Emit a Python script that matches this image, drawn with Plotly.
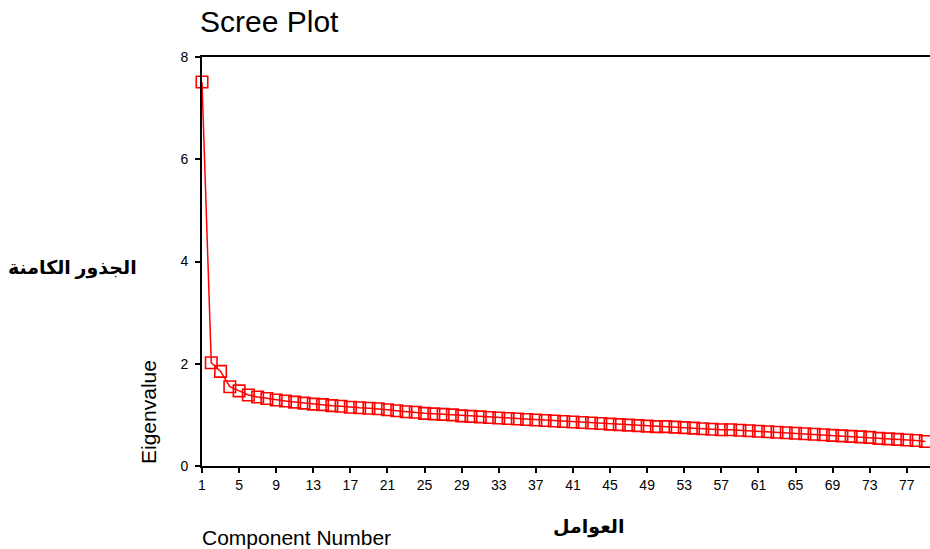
import plotly.graph_objects as go

components = list(range(1, 80))
eigenvalues = [
    7.51, 2.02, 1.85, 1.55, 1.47, 1.39, 1.35, 1.32, 1.29, 1.27,
    1.25, 1.23, 1.21, 1.20, 1.18, 1.17, 1.15, 1.14, 1.13, 1.12,
    1.10, 1.08, 1.06, 1.05, 1.03, 1.02, 1.01, 1.00, 0.98, 0.97,
    0.96, 0.95, 0.94, 0.93, 0.92, 0.91, 0.90, 0.89, 0.88, 0.87,
    0.86, 0.85, 0.84, 0.83, 0.82, 0.81, 0.80, 0.79, 0.78, 0.77,
    0.77, 0.76, 0.75, 0.74, 0.73, 0.72, 0.71, 0.71, 0.70, 0.69,
    0.68, 0.67, 0.66, 0.65, 0.64, 0.63, 0.62, 0.61, 0.60, 0.59,
    0.58, 0.57, 0.56, 0.54, 0.53, 0.52, 0.51, 0.50, 0.48,
]
x_ticks = list(range(1, 80, 4))
y_ticks = [0, 2, 4, 6, 8]

title_text = "Scree Plot"
x_title = "Component Number"
y_title = "Eigenvalue"
x_title_ar = "العوامل"
y_title_ar = "الجذور الكامنة"

W, H = 930, 549
ML, MR, MT, MB = 202, 0, 57, 83

fig = go.Figure()
fig.add_trace(go.Scatter(
    x=components, y=eigenvalues, mode="lines+markers",
    line=dict(color="#ff0000", width=1.5),
    marker=dict(symbol="square-open", size=11.5, color="#ff0000", line=dict(width=1.6, color="#ff0000")),
    cliponaxis=False, showlegend=False,
))

sans = "Liberation Sans, Arial, sans-serif"
arab = "Times New Roman, DejaVu Sans, sans-serif"
axis_font = dict(family=sans, size=14, color="black")

pl, pr, pt, pb = ML, W - MR, MT, H - MB


def px_ann(text, x, y, font, **kw):
    return dict(text=text, x=(x - pl) / (pr - pl), y=(pb - y) / (pb - pt),
                xref="paper", yref="paper", xanchor="center", yanchor="middle",
                showarrow=False, font=font, **kw)


fig.update_layout(
    width=W, height=H,
    margin=dict(l=ML, r=MR, t=MT, b=MB),
    plot_bgcolor="white", paper_bgcolor="white",
    title=dict(text=title_text, x=200 / W, xanchor="left", xref="container",
               y=1 - 21 / H, yanchor="middle", yref="container",
               font=dict(family=sans, size=30, color="black")),
    xaxis=dict(range=[1, 79.5], tickvals=x_ticks, showgrid=False, zeroline=False,
               showline=True, linecolor="black", linewidth=2, mirror=True,
               ticks="outside", ticklen=5, tickwidth=1.5, tickcolor="black",
               tickfont=axis_font),
    yaxis=dict(range=[0, 8], tickvals=y_ticks, showgrid=False, zeroline=False,
               showline=True, linecolor="black", linewidth=2,
               ticks="outside", ticklen=5, tickwidth=1.5, tickcolor="black",
               ticklabelstandoff=4, tickfont=axis_font),
    annotations=[
        px_ann(y_title, 148, 412, dict(family=sans, size=21, color="black"), textangle=-90),
        px_ann(x_title, 296, 537, dict(family=sans, size=21, color="black")),
        px_ann("<b>" + y_title_ar + "</b>", 72, 268, dict(family=arab, size=19, color="black")),
        px_ann("<b>" + x_title_ar + "</b>", 589, 527, dict(family=arab, size=19, color="black")),
    ],
)

fig.write_html("out.html", config={"displayModeBar": False},
               post_script="document.body.style.margin='0';document.body.style.overflow='hidden';")
